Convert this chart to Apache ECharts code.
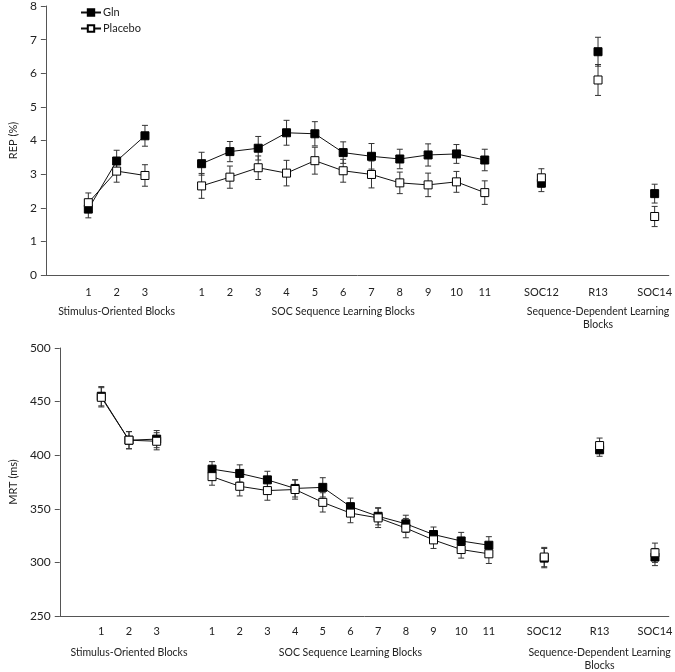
<!DOCTYPE html>
<html><head><meta charset="utf-8">
<script src="https://cdn.jsdelivr.net/npm/echarts@6/dist/echarts.min.js"></script>
<style>html,body{margin:0;padding:0;background:#fff}#c{width:675px;height:672px}</style>
</head><body><div id="c"></div>
<script>
// Category slots (blank slots separate the block groups)
const categories = ['', '1','2','3', '', '1','2','3','4','5','6','7','8','9','10','11', '', 'SOC12', '', 'R13', '', 'SOC14'];
const groupLabels = ['', '', 'Stimulus-Oriented Blocks', '', '', '', '', '', '', '', 'SOC Sequence Learning Blocks', '', '', '', '', '', '', '', '', 'Sequence-Dependent Learning\nBlocks', '', ''];

// REP (%)
const repGln     = [null, 1.96,3.39,4.14, null, 3.31,3.67,3.77,4.23,4.20,3.64,3.53,3.45,3.57,3.60,3.42, null, 2.73, null, 6.64, null, 2.42];
const repGlnErr  = [null, 0.26,0.32,0.31, null, 0.34,0.30,0.35,0.37,0.36,0.32,0.38,0.29,0.33,0.28,0.32, null, 0.25, null, 0.43, null, 0.28];
const repPla     = [null, 2.15,3.09,2.96, null, 2.65,2.91,3.19,3.03,3.40,3.10,2.99,2.74,2.68,2.77,2.45, null, 2.89, null, 5.80, null, 1.74];
const repPlaErr  = [null, 0.29,0.33,0.32, null, 0.37,0.33,0.35,0.38,0.40,0.34,0.40,0.32,0.35,0.31,0.35, null, 0.27, null, 0.46, null, 0.30];

// MRT (ms)
const mrtGln     = [null, 455,414,415, null, 387,383,377,369,370,352,343,336,326,320,316, null, 304, null, 405, null, 305];
const mrtGlnErr  = [null, 9,8,8, null, 7,8,8,8,9,8,8,8,7,8,8, null, 9, null, 6, null, 8];
const mrtPla     = [null, 454,414,413, null, 380,371,367,368,356,346,341.5,332,321,312,308, null, 305, null, 409, null, 309];
const mrtPlaErr  = [null, 9,8,8, null, 8,9,9,9,9,9,9,9,8,8,9, null, 9, null, 7, null, 9];

const FONT = 'Lato';
const TXT = '#222';
const AX = '#555';

function errData(vals, errs){
  const out = [];
  vals.forEach((v,i)=>{ if(v!=null) out.push([i, v-errs[i], v+errs[i]]); });
  return out;
}
function errSeries(vals, errs, gi){
  return {
    type:'custom', xAxisIndex: gi*2, yAxisIndex: gi, z: 1, silent:true,
    encode:{x:0, y:[1,2]},
    data: errData(vals, errs),
    renderItem: function(params, api){
      const x = api.value(0);
      const lo = api.coord([x, api.value(1)]);
      const hi = api.coord([x, api.value(2)]);
      const st = {stroke:'#333', lineWidth:1};
      const w = 3;
      return {type:'group', children:[
        {type:'line', shape:{x1:lo[0], y1:lo[1], x2:hi[0], y2:hi[1]}, style:st},
        {type:'line', shape:{x1:lo[0]-w, y1:lo[1], x2:lo[0]+w, y2:lo[1]}, style:st},
        {type:'line', shape:{x1:hi[0]-w, y1:hi[1], x2:hi[0]+w, y2:hi[1]}, style:st}
      ]};
    }
  };
}
function lineSeries(name, vals, gi, filled){
  return {
    name, type:'line', xAxisIndex: gi*2, yAxisIndex: gi, z: 3,
    data: vals, connectNulls:false, showAllSymbol:true,
    symbol:'rect', symbolSize:8,
    lineStyle:{color:'#111', width:1},
    itemStyle:{color: filled ? '#000' : '#fff', borderColor:'#000', borderWidth:1},
    emphasis:{disabled:true}, animation:false
  };
}
function xAxes(gi, labelMargin, groupMargin){
  return [
    {type:'category', gridIndex:gi, data:categories, boundaryGap:true,
     axisLine:{show:true, lineStyle:{color:AX, width:1}}, axisTick:{show:false},
     axisLabel:{interval:0, margin:labelMargin, color:TXT, fontFamily:FONT, fontSize:11}},
    {type:'category', gridIndex:gi, data:groupLabels, boundaryGap:true, position:'bottom',
     axisLine:{show:false}, axisTick:{show:false},
     axisLabel:{interval:0, margin:groupMargin, color:TXT, fontFamily:FONT, fontSize:10.5, lineHeight:13, verticalAlign:'top'}}
  ];
}
function yAxis(gi, name, min, max, interval, nameGap){
  return {type:'value', gridIndex:gi, min, max, interval, name, nameLocation:'middle', nameGap,
    nameTextStyle:{color:TXT, fontFamily:FONT, fontSize:11},
    splitLine:{show:false},
    axisLine:{show:true, lineStyle:{color:AX, width:1}},
    axisTick:{show:true, length:5, lineStyle:{color:AX}},
    axisLabel:{color:TXT, fontFamily:FONT, fontSize:12, margin:9}};
}

const chart = echarts.init(document.getElementById('c'), null, {renderer:'canvas'});
chart.setOption({
  animation:false,
  backgroundColor:'#fff',
  grid:[
    {left:42, top:5, width:627, height:270},
    {left:42, top:348, width:627, height:269}
  ],
  legend:{
    orient:'vertical', left:75, top:2, itemWidth:20, itemHeight:8, itemGap:5,
    data:['Gln','Placebo'],
    textStyle:{color:TXT, fontFamily:FONT, fontSize:11, padding:[0,0,0,-3]}
  },
  xAxis:[...xAxes(0, 12, 30), ...xAxes(1, 10, 30)],
  yAxis:[yAxis(0,'REP (%)',0,8,1,23), yAxis(1,'MRT (ms)',250,500,50,33)],
  series:[
    errSeries(repGln, repGlnErr, 0),
    errSeries(repPla, repPlaErr, 0),
    lineSeries('Gln', repGln, 0, true),
    lineSeries('Placebo', repPla, 0, false),
    errSeries(mrtGln, mrtGlnErr, 1),
    errSeries(mrtPla, mrtPlaErr, 1),
    lineSeries('Gln', mrtGln, 1, true),
    lineSeries('Placebo', mrtPla, 1, false)
  ]
});
</script></body></html>
